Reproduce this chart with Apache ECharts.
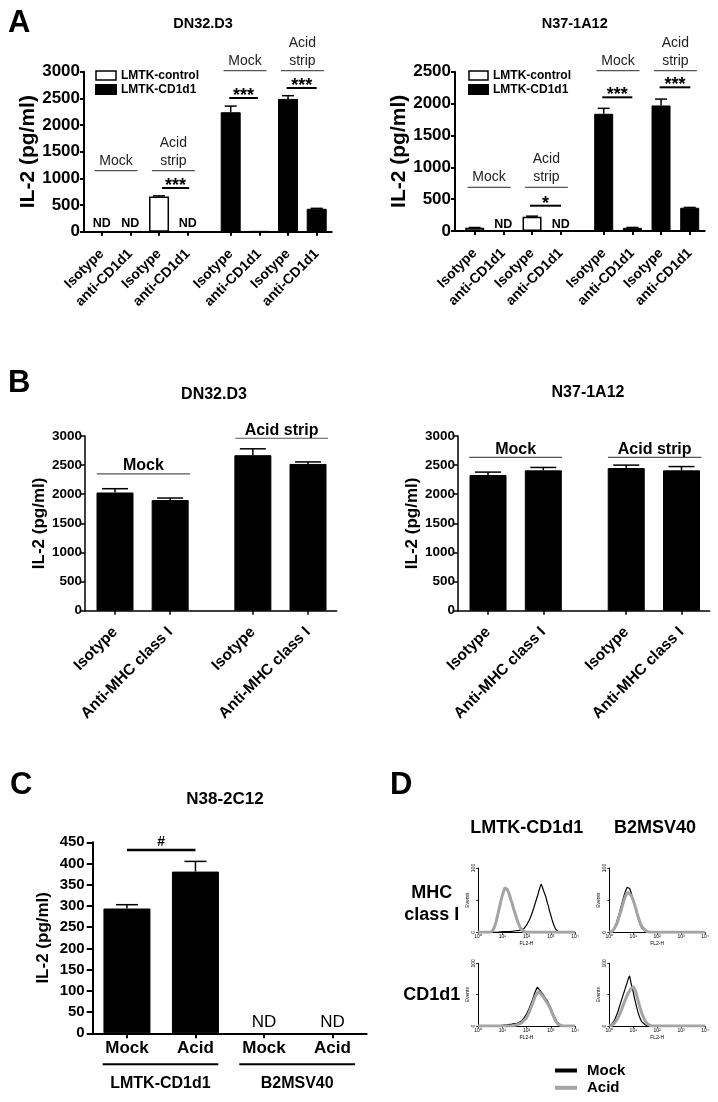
<!DOCTYPE html>
<html><head><meta charset="utf-8">
<script src="https://cdn.jsdelivr.net/npm/echarts@6/dist/echarts.min.js"></script>
<style>html,body{margin:0;padding:0;background:#fff}#c{width:718px;height:1102px}</style>
</head><body><div id="c"></div><script>
const FONT = 'Liberation Sans, Arial, Helvetica, sans-serif';

// ================= DATA =================
// Panel A (IL-2 pg/ml, null = ND)
const aLabels = ['Isotype','anti-CD1d1','Isotype','anti-CD1d1','Isotype','anti-CD1d1','Isotype','anti-CD1d1'];
const aCells  = ['LMTK-control','LMTK-control','LMTK-control','LMTK-control','LMTK-CD1d1','LMTK-CD1d1','LMTK-CD1d1','LMTK-CD1d1'];
const aDN32Values = [null, null, 660, null, 2240, 10, 2490, 430];
const aDN32Errors = [0, 0, 12, 0, 115, 0, 60, 8];
const aN37Values  = [50, null, 225, null, 1840, 50, 1970, 365];
const aN37Errors  = [5, 0, 8, 0, 85, 6, 100, 5];
// Panel B
const bLabels = ['Isotype','Anti-MHC class I','Isotype','Anti-MHC class I'];
const bDN32Values = [2030, 1900, 2670, 2520];
const bDN32Errors = [65, 35, 110, 35];
const bN37Values  = [2330, 2410, 2450, 2410];
const bN37Errors  = [50, 50, 50, 65];
// Panel C
const cLabels = ['Mock','Acid','Mock','Acid'];
const cGroups = ['LMTK-CD1d1','B2MSV40'];
const cValues = [294, 381, null, null];
const cErrors = [9, 24, 0, 0];
// Panel D histograms: [log10(FL2-H), % events]
const dMhcLmtkMock = [[0,0],[0.8,0],[1.0,1],[1.3,1],[1.5,2],[1.7,3],[1.8,4],[1.9,6],[1.95,8],[2.0,11],[2.05,14],[2.1,18],[2.15,22],[2.2,27],[2.25,32],[2.3,38],[2.35,44],[2.4,50],[2.45,56],[2.5,63],[2.55,69],[2.6,75],[2.65,71],[2.7,65],[2.75,60],[2.8,55],[2.85,47],[2.9,41],[2.95,33],[3.0,27],[3.05,20],[3.1,14],[3.15,9],[3.2,5],[3.25,3],[3.3,1],[3.4,0],[4,0]];
const dMhcLmtkAcid = [[0,0],[0.5,0],[0.6,2],[0.65,6],[0.7,11],[0.75,17],[0.8,25],[0.85,33],[0.9,41],[0.95,50],[1.0,57],[1.05,63],[1.1,69],[1.15,72],[1.2,67],[1.25,63],[1.3,58],[1.35,51],[1.4,46],[1.45,39],[1.5,33],[1.55,27],[1.6,21],[1.65,15],[1.7,11],[1.75,7],[1.8,4],[1.85,2],[1.9,1],[2.0,0],[4,0]];
const dMhcB2mMock  = [[0,0],[0.1,1],[0.15,3],[0.2,6],[0.25,10],[0.3,15],[0.35,21],[0.4,27],[0.45,34],[0.5,41],[0.55,48],[0.6,55],[0.65,61],[0.7,66],[0.75,70],[0.8,73],[0.85,68],[0.9,63],[0.95,57],[1.0,50],[1.05,43],[1.1,36],[1.15,29],[1.2,22],[1.25,16],[1.3,11],[1.35,7],[1.4,4],[1.5,2],[1.6,0],[4,0]];
const dMhcB2mAcid  = [[0,0],[0.1,1],[0.15,2],[0.2,5],[0.25,8],[0.3,12],[0.35,17],[0.4,23],[0.45,29],[0.5,35],[0.55,42],[0.6,48],[0.65,54],[0.7,58],[0.75,62],[0.8,64],[0.85,60],[0.9,61],[0.95,55],[1.0,50],[1.05,44],[1.1,38],[1.15,31],[1.2,25],[1.25,19],[1.3,14],[1.35,10],[1.4,7],[1.5,3],[1.6,1],[1.7,0],[4,0]];
const dCd1LmtkMock = [[0,0],[0.8,0],[1.0,1],[1.2,2],[1.4,3],[1.5,4],[1.6,4],[1.7,6],[1.8,8],[1.85,10],[1.9,13],[1.95,16],[2.0,19],[2.05,23],[2.1,27],[2.15,32],[2.2,37],[2.25,42],[2.3,48],[2.35,54],[2.4,58],[2.45,62],[2.5,60],[2.55,57],[2.6,55],[2.65,52],[2.7,50],[2.75,46],[2.8,45],[2.85,41],[2.9,38],[2.95,33],[3.0,29],[3.05,24],[3.1,19],[3.15,15],[3.2,11],[3.25,7],[3.3,4],[3.4,2],[3.5,0],[4,0]];
const dCd1LmtkAcid = [[0,0],[1.4,0],[1.6,2],[1.8,5],[1.9,9],[2.0,13],[2.05,17],[2.1,21],[2.15,26],[2.2,31],[2.25,36],[2.3,41],[2.35,46],[2.4,50],[2.45,53],[2.5,55],[2.55,54],[2.6,51],[2.65,48],[2.7,46],[2.75,43],[2.8,40],[2.85,37],[2.9,34],[2.95,30],[3.0,26],[3.05,21],[3.1,17],[3.15,12],[3.2,8],[3.25,5],[3.3,3],[3.4,1],[3.5,0],[4,0]];
const dCd1B2mMock  = [[0,0],[0.05,1],[0.1,3],[0.15,5],[0.2,8],[0.25,12],[0.3,17],[0.35,22],[0.4,28],[0.45,34],[0.5,40],[0.55,46],[0.6,52],[0.65,58],[0.7,64],[0.75,70],[0.8,76],[0.85,80],[0.9,70],[0.95,62],[1.0,54],[1.05,45],[1.1,37],[1.15,29],[1.2,22],[1.25,16],[1.3,11],[1.35,7],[1.4,4],[1.5,2],[1.6,0],[4,0]];
const dCd1B2mAcid  = [[0,0],[0.1,1],[0.15,2],[0.2,4],[0.25,6],[0.3,9],[0.35,12],[0.4,16],[0.45,20],[0.5,25],[0.55,30],[0.6,35],[0.65,40],[0.7,45],[0.75,49],[0.8,53],[0.85,56],[0.9,59],[0.95,62],[1.0,63],[1.05,60],[1.1,55],[1.15,48],[1.2,41],[1.25,34],[1.3,27],[1.35,21],[1.4,16],[1.45,12],[1.5,8],[1.55,5],[1.6,3],[1.7,1],[1.8,0],[4,0]];
const dTickLabels = ['10\u2070','10\u00b9','10\u00b2','10\u00b3','10\u2074'];

// Annotations in data space: [x1, x2, y, text]
const aDN32Groups = [[-0.25,1.25,1144,'Mock'],[1.75,3.25,1144,'Acid\nstrip'],[4.25,5.75,3019,'Mock'],[6.25,7.75,3019,'Acid\nstrip']];
const aDN32Sig    = [[2.1,3.05,819,'***'],[4.45,5.45,2507,'***'],[6.45,7.5,2694,'***']];
const aN37Groups  = [[-0.25,1.25,686,'Mock'],[1.75,3.25,686,'Acid\nstrip'],[4.25,5.75,2516,'Mock'],[6.25,7.75,2516,'Acid\nstrip']];
const aN37Sig     = [[1.93,3.01,397,'*'],[4.45,5.5,2098,'***'],[6.45,7.52,2255,'***']];
const bDN32Groups = [[-0.33,1.36,2348,'Mock'],[2.18,3.86,2961,'Acid strip']];
const bN37Groups  = [[-0.34,1.34,2634,'Mock'],[2.17,3.86,2634,'Acid strip']];
const cSig        = [[0,1,432,'#']];

// ================= HELPERS =================
function positions(n, groupSize, gap) { const o=[]; for (let i=0;i<n;i++) o.push(i + Math.floor(i/groupSize)*gap); return o; }
const aPos = positions(8, 4, 0.5);
const bPos = positions(4, 2, 0.5);
const cPos = positions(4, 4, 0);

function barX(gi, min, max, pos, labels, o) {
  return {type:'value', gridIndex:gi, min, max, splitLine:{show:false},
    axisLine:{show:true, onZero:false, lineStyle:{color:'#000', width:o.lw}},
    axisTick:{show:true, customValues:pos, length:o.tick, lineStyle:{color:'#000', width:o.lw}},
    axisLabel:{show:true, customValues:pos, rotate:o.rotate||0, margin:o.margin, fontSize:o.fs, fontWeight:'bold', fontFamily:FONT, color:'#000',
      formatter:(v)=>{ const i=pos.findIndex(p=>Math.abs(p-v)<1e-6); return i<0?'':labels[i]; }}};
}
function barY(gi, max, o) {
  return {type:'value', gridIndex:gi, min:0, max, interval:o.interval, splitLine:{show:false},
    axisLine:{show:true, onZero:false, lineStyle:{color:'#000', width:o.lw}},
    axisTick:{show:true, length:o.tick, lineStyle:{color:'#000', width:o.lw}},
    axisLabel:{margin:o.margin, fontSize:o.fs, fontWeight:'bold', fontFamily:FONT, color:'#000', formatter:v=>String(v)},
    name:'IL-2 (pg/ml)', nameLocation:'middle', nameRotate:90, nameGap:o.nameGap,
    nameTextStyle:{fontSize:o.nfs, fontWeight:'bold', fontFamily:FONT, color:'#000'}};
}
function barData(pos, vals, cells, which) {
  const out=[]; pos.forEach((p,i)=>{ if ((cells==null || cells[i]===which) && vals[i]!=null) out.push([p, vals[i]]); }); return out;
}
function barSeries(gi, name, data, width, white) {
  return {type:'bar', name, xAxisIndex:gi, yAxisIndex:gi, barWidth:width, barGap:'-100%', data, silent:true,
    itemStyle: white ? {color:'#fff', borderColor:'#000', borderWidth:1.5} : {color:'#000', borderColor:'#000', borderWidth:1}};
}
function errSeries(gi, pos, vals, errs, capW, lw) {
  const data=[]; pos.forEach((p,i)=>{ if (vals[i]!=null && errs[i]>0) data.push([p, vals[i], errs[i]]); });
  return {type:'custom', xAxisIndex:gi, yAxisIndex:gi, silent:true, z:5, data, encode:{x:0, y:1},
    renderItem(params, api){
      const x=api.value(0), v=api.value(1), e=api.value(2);
      const p0=api.coord([x,v]), p1=api.coord([x,v+e]);
      return {type:'group', children:[
        {type:'line', shape:{x1:p0[0],y1:p0[1],x2:p1[0],y2:p1[1]}, style:{stroke:'#000', lineWidth:lw}},
        {type:'line', shape:{x1:p1[0]-capW/2,y1:p1[1],x2:p1[0]+capW/2,y2:p1[1]}, style:{stroke:'#000', lineWidth:lw}}]};
    }};
}
function annSeries(gi, anns, st) {
  return {type:'custom', xAxisIndex:gi, yAxisIndex:gi, silent:true, z:6, clip:false,
    data: anns.map(a=>[a[0], a[1], a[2]]), encode:{x:[0,1], y:2},
    renderItem(params, api){
      const a = anns[params.dataIndex];
      const p1 = api.coord([api.value(0), api.value(2)]), p2 = api.coord([api.value(1), api.value(2)]);
      const ch=[];
      if (st.line !== false) ch.push({type:'line', shape:{x1:p1[0],y1:p1[1],x2:p2[0],y2:p2[1]}, style:{stroke:st.lineColor||'#000', lineWidth:st.lineWidth||1}});
      ch.push({type:'text', style:{text:a[3], x:(p1[0]+p2[0])/2, y:p1[1]+st.dy, align:'center', verticalAlign:st.va||'bottom',
        fontSize:st.fs, fontWeight:st.fw||'normal', fontFamily:FONT, fill:st.color||'#000', lineHeight:st.lh||st.fs}});
      return {type:'group', children:ch};
    }};
}
function ndAnns(pos, vals, y) { const o=[]; pos.forEach((p,i)=>{ if (vals[i]==null) o.push([p,p,y,'ND']); }); return o; }

function histX(gi) {
  return {type:'value', gridIndex:gi, min:0, max:4, interval:1, splitLine:{show:false},
    axisLine:{show:true, onZero:false, lineStyle:{color:'#000', width:1}},
    axisTick:{show:true, length:2, lineStyle:{color:'#000', width:0.8}},
    axisLabel:{fontSize:5, margin:2, color:'#000', fontFamily:FONT, formatter:v=>dTickLabels[Math.round(v)]},
    name:'FL2-H', nameLocation:'middle', nameGap:9, nameTextStyle:{fontSize:5, color:'#000', fontFamily:FONT}};
}
function histY(gi) {
  return {type:'value', gridIndex:gi, min:0, max:100, interval:50, splitLine:{show:false},
    axisLine:{show:true, onZero:false, lineStyle:{color:'#000', width:1}},
    axisTick:{show:true, length:2, lineStyle:{color:'#000', width:0.8}},
    axisLabel:{fontSize:5, margin:2, rotate:90, color:'#000', fontFamily:FONT, formatter:v=>v===50?'':String(v)},
    name:'Events', nameLocation:'middle', nameRotate:90, nameGap:6, nameTextStyle:{fontSize:5, color:'#000', fontFamily:FONT}};
}
function histSeries(gi, name, data) {
  const mock = name==='Mock';
  return {type:'line', name, xAxisIndex:gi, yAxisIndex:gi, data, showSymbol:false, silent:true, z: mock?3:4,
    lineStyle:{color: mock?'#000':'#a4a4a4', width: mock?1.2:3}, itemStyle:{color: mock?'#000':'#a4a4a4'}};
}

// ================= LAYOUT =================
const grids = [
  {left:84, top:71.7, width:247.7, height:160},
  {left:455, top:71.7, width:249.7, height:159.3},
  {left:85, top:436, width:251.7, height:174.7},
  {left:458, top:436, width:251.7, height:174.7},
  {left:92.7, top:842.3, width:274, height:191},
  {left:478, top:868, width:97, height:64.3},
  {left:609.3, top:868, width:95.7, height:64.3},
  {left:478, top:963.3, width:97, height:62.7},
  {left:609.3, top:963.3, width:95.7, height:62.7}
];
const aXo = {lw:2, tick:4, rotate:45, margin:20, fs:14};
const aYo = {lw:2, tick:4, margin:4, fs:17, interval:500, nameGap:41, nfs:21};
const bXo = {lw:1.5, tick:4, rotate:45, margin:19, fs:15.5};
const bYo = {lw:1.5, tick:4, margin:3, fs:13.5, interval:500, nameGap:34, nfs:17};
const cXo = {lw:2, tick:5, rotate:0, margin:7, fs:17};
const cYo = {lw:2, tick:6, margin:8, fs:15, interval:50, nameGap:41, nfs:17};

const xAxes = [
  barX(0, -0.617, 8.023, aPos, aLabels, aXo),
  barX(1, -0.687, 8.023, aPos, aLabels, aXo),
  barX(2, -0.544, 4.02, bPos, bLabels, bXo),
  barX(3, -0.543, 4.01, bPos, bLabels, bXo),
  barX(4, -0.5, 3.5, cPos, cLabels, cXo),
  histX(5), histX(6), histX(7), histX(8)
];
const yAxes = [
  barY(0, 3000, aYo), barY(1, 2500, aYo), barY(2, 3000, bYo), barY(3, 3000, bYo), barY(4, 450, cYo),
  histY(5), histY(6), histY(7), histY(8)
];

const groupA = {lineColor:'#555', lineWidth:1.2, fs:14, va:'bottom', dy:-1, lh:18, color:'#222'};
const sigA   = {lineColor:'#000', lineWidth:2, fs:18, fw:'bold', va:'middle', dy:-2};
const ndA    = {line:false, fs:12.5, fw:'bold', va:'middle', dy:0};
const groupB = {lineColor:'#555', lineWidth:1.2, fs:16, fw:'bold', va:'middle', dy:-8};

const series = [
  barSeries(0, 'LMTK-control', barData(aPos, aDN32Values, aCells, 'LMTK-control'), 20, true),
  barSeries(0, 'LMTK-CD1d1', barData(aPos, aDN32Values, aCells, 'LMTK-CD1d1'), 20, false),
  errSeries(0, aPos, aDN32Values, aDN32Errors, 12, 1.5),
  annSeries(0, aDN32Groups, groupA), annSeries(0, aDN32Sig, sigA), annSeries(0, ndAnns(aPos, aDN32Values, 160), ndA),

  barSeries(1, 'LMTK-control', barData(aPos, aN37Values, aCells, 'LMTK-control'), 19, true),
  barSeries(1, 'LMTK-CD1d1', barData(aPos, aN37Values, aCells, 'LMTK-CD1d1'), 19, false),
  errSeries(1, aPos, aN37Values, aN37Errors, 12, 1.5),
  annSeries(1, aN37Groups, groupA), annSeries(1, aN37Sig, sigA), annSeries(1, ndAnns(aPos, aN37Values, 105), ndA),

  barSeries(2, 'DN32.D3', barData(bPos, bDN32Values), 37, false),
  errSeries(2, bPos, bDN32Values, bDN32Errors, 26, 1.5),
  annSeries(2, bDN32Groups, groupB),

  barSeries(3, 'N37-1A12', barData(bPos, bN37Values), 37, false),
  errSeries(3, bPos, bN37Values, bN37Errors, 26, 1.5),
  annSeries(3, bN37Groups, groupB),

  barSeries(4, 'N38-2C12', barData(cPos, cValues), 47, false),
  errSeries(4, cPos, cValues, cErrors, 22, 1.5),
  annSeries(4, cSig, {lineColor:'#000', lineWidth:2.5, fs:14, fw:'bold', va:'middle', dy:-8}),
  annSeries(4, ndAnns(cPos, cValues, 25), {line:false, fs:17, va:'middle', dy:0}),
  annSeries(4, [[-0.355,1.333,-73,cGroups[0]],[1.64,3.33,-73,cGroups[1]]], {lineColor:'#000', lineWidth:2, fs:16, fw:'bold', va:'middle', dy:19}),

  histSeries(5, 'Mock', dMhcLmtkMock), histSeries(5, 'Acid', dMhcLmtkAcid),
  histSeries(6, 'Mock', dMhcB2mMock),  histSeries(6, 'Acid', dMhcB2mAcid),
  histSeries(7, 'Mock', dCd1LmtkMock), histSeries(7, 'Acid', dCd1LmtkAcid),
  histSeries(8, 'Mock', dCd1B2mMock),  histSeries(8, 'Acid', dCd1B2mAcid)
];

const legendA = (left, w) => ({left, top:69.5, orient:'vertical', padding:0, itemWidth:w, itemHeight:9, itemGap:2, icon:'rect', selectedMode:false,
  data:[{name:'LMTK-control', itemStyle:{color:'#fff', borderColor:'#000', borderWidth:1.5}}, {name:'LMTK-CD1d1', itemStyle:{color:'#000'}}],
  textStyle:{fontSize:12, fontWeight:'bold', fontFamily:FONT, color:'#000', lineHeight:12}});

// Text labels: [text, x, y, size]
const panelLetters = [['A',8,23],['B',8,383],['C',10,785],['D',390,785]];
const panelTitles = [['DN32.D3',203,24,14.5],['N37-1A12',574.7,24,14.5],['DN32.D3',214,395,16],['N37-1A12',588,393,16],['N38-2C12',225,799,17],
  ['LMTK-CD1d1',526.7,828.3,18],['B2MSV40',655,828.3,18],['MHC',431.7,893.3,18],['class I',431.7,915,18],['CD1d1',431.7,995,18]];
const graphics = [];
panelLetters.forEach(t=>graphics.push({type:'text', x:t[1], y:t[2], style:{text:t[0], align:'left', verticalAlign:'middle', fontSize:31, fontWeight:'bold', fontFamily:FONT, fill:'#000'}}));
panelTitles.forEach(t=>graphics.push({type:'text', x:t[1], y:t[2], style:{text:t[0], align:'center', verticalAlign:'middle', fontSize:t[3], fontWeight:'bold', fontFamily:FONT, fill:'#000'}}));

const chart = echarts.init(document.getElementById('c'), null, {renderer:'canvas'});
chart.setOption({
  animation:false, backgroundColor:'#fff',
  grid: grids, xAxis: xAxes, yAxis: yAxes, series,
  legend: [legendA(95, 20), legendA(468, 19),
    {left:555, top:1063, orient:'vertical', padding:0, itemWidth:22, itemHeight:4, itemGap:2.3, icon:'rect', selectedMode:false,
     data:[{name:'Mock', itemStyle:{color:'#000'}}, {name:'Acid', itemStyle:{color:'#a4a4a4'}}],
     textStyle:{fontSize:15, fontWeight:'bold', fontFamily:FONT, color:'#000', lineHeight:15, padding:[0,0,0,5]}}],
  graphic: graphics
});
</script></body></html>
